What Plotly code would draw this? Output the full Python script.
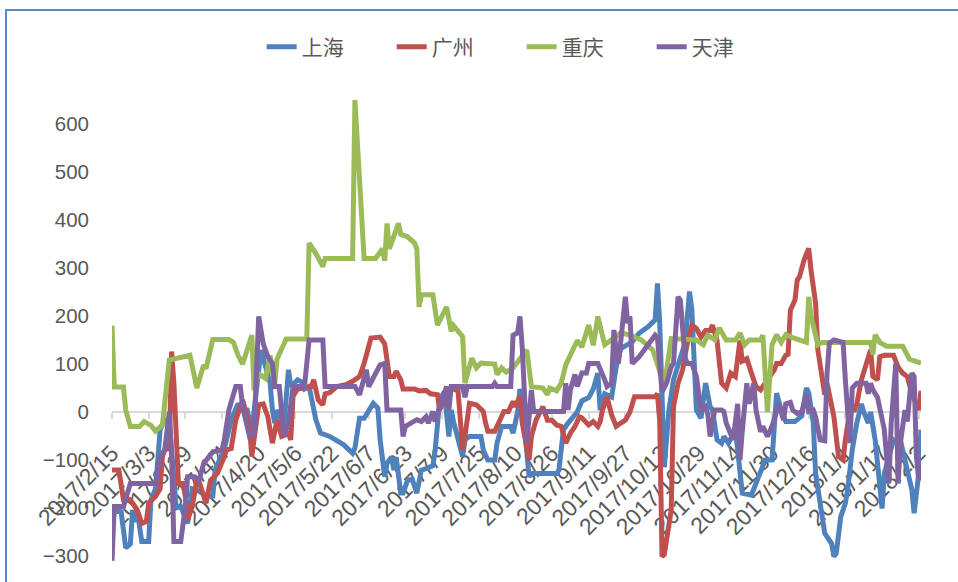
import plotly.graph_objects as go
from datetime import date, timedelta

START = date(2017, 2, 15)

tick_labels = ["2017/2/15", "2017/3/3", "2017/3/19", "2017/4/4", "2017/4/20", "2017/5/6",
               "2017/5/22", "2017/6/7", "2017/6/23", "2017/7/9", "2017/7/25", "2017/8/10",
               "2017/8/26", "2017/9/11", "2017/9/27", "2017/10/13", "2017/10/29", "2017/11/14",
               "2017/11/30", "2017/12/16", "2018/1/1", "2018/1/17", "2018/2/2"]
last_day = 353  # days after 2017/2/15 of the last observation
y_ticks = [-300, -200, -100, 0, 100, 200, 300, 400, 500, 600]

# 上海 (days after 2017/2/15, value)
sh_day = [0,1,4,6,8,9,10,11,13,16,17,19,21,23,25,28,30,33,35,38,41,44,45,49,50,52,55,57,59,61,
          65,67,69,70,71,72,75,77,78,81,83,84,86,89,91,95,98,101,105,106,108,110,114,116,117,119,
          120,122,123,124,126,127,129,131,133,135,137,140,141,143,145,147,148,149,153,154,156,161,
          162,164,167,168,170,174,175,177,178,179,182,183,194,195,197,199,203,205,208,210,212,213,
          215,218,220,222,227,230,234,237,238,239,241,243,245,248,250,252,253,255,257,259,261,262,
          264,266,267,269,272,273,275,279,281,283,285,288,290,292,294,298,301,303,304,306,307,309,
          311,314,315,316,318,320,321,323,325,327,328,330,331,333,336,337,341,343,344,347,349,350,
          352,353]
sh_val = [-245,-204,-208,-283,-275,-204,-229,-205,-270,-270,-183,-160,-37,-17,-20,-200,-197,-232,-160,-165,
          -175,-175,-121,-77,-57,-17,17,4,4,-40,129,90,60,4,-23,4,-30,88,53,67,62,48,53,-17,-44,-51,
          -61,-68,-86,-75,-13,-13,18,8,-58,-135,-107,-94,-121,-94,-169,-169,-142,-140,-169,-121,-118,
          -112,-80,25,42,-51,4,-20,-93,-58,-51,-51,-79,-100,-100,-65,-30,-30,-44,0,48,17,-135,-128,
          -128,-121,-37,-23,0,23,30,48,81,4,38,31,94,132,146,164,178,192,268,185,-115,4,67,115,143,
          251,213,4,-13,60,11,4,-58,-65,-51,-65,-37,-79,-169,-173,-150,-121,-100,-100,39,4,-20,-20,
          -8,50,40,-23,-128,-190,-253,-274,-301,-295,-218,-190,-162,-79,-23,17,0,-23,0,-58,-201,-128,
          -58,-65,-58,-121,-162,-211,-128,-37]

# 广州
gz_day = [0,3,5,8,9,11,13,15,16,19,21,22,23,25,26,27,29,31,32,33,35,37,38,41,43,46,49,50,52,54,
          57,58,60,61,62,64,66,68,70,72,74,77,78,79,81,87,88,90,92,93,95,98,102,105,108,110,113,117,
          119,121,123,124,126,127,132,134,137,139,142,143,146,148,151,153,154,156,159,162,163,164,
          167,169,171,173,175,176,178,179,181,182,183,185,188,190,192,194,196,198,200,202,204,205,
          208,210,212,213,214,216,218,220,222,224,226,228,237,238,239,240,241,244,245,247,249,251,
          253,255,257,259,261,262,264,266,268,270,272,274,275,277,279,281,283,285,286,289,290,292,
          294,295,296,298,299,300,302,304,305,307,308,310,311,312,313,315,317,319,320,322,324,325,
          327,331,332,334,335,337,341,343,345,347,349,352,353]
gz_val = [-121,-121,-183,-183,-190,-204,-232,-228,-190,-176,-160,-93,-79,-75,126,60,-149,-149,-176,-225,
          -197,-142,-145,-190,-142,-128,-93,-79,-76,-17,25,4,-30,-93,-51,15,17,-10,-65,-17,-51,-45,
          -58,33,48,53,67,25,15,38,40,53,57,64,74,101,154,156,142,74,74,85,67,48,48,44,45,38,36,4,
          38,50,44,-79,-51,18,15,1,-23,-40,-40,-17,1,1,22,11,33,-23,-79,-100,-51,-17,11,-17,-17,-27,
          -30,-65,-44,-30,-10,-12,-27,-20,-30,-20,4,31,-6,-30,-23,-17,0,32,32,38,-20,-301,-297,-204,
          11,60,88,143,181,174,156,170,170,181,149,60,50,81,74,149,106,111,81,53,46,60,64,88,101,101,
          118,120,212,233,275,282,317,341,296,227,129,67,36,60,38,-10,-93,-100,-58,4,4,17,67,129,74,
          67,115,118,118,94,81,74,38,4,44]

# 重庆
cq_day = [0,1,5,6,8,12,14,17,19,22,25,29,34,35,37,40,41,44,51,53,55,57,61,62,64,67,69,70,71,72,
          76,85,86,89,92,93,105,106,110,115,118,119,120,121,123,125,126,129,132,133,134,135,140,142,
          146,148,149,153,154,157,159,161,167,168,170,172,175,181,183,188,190,191,194,196,198,203,
          205,208,210,212,215,218,222,226,231,236,241,244,250,255,258,260,263,265,268,272,274,276,
          278,283,284,286,288,290,292,294,297,301,303,304,305,308,310,331,332,333,335,338,345,348,353]
cq_val = [180,52,52,4,-30,-30,-20,-28,-40,-27,108,112,118,96,50,98,90,151,151,145,118,100,160,45,80,70,
          118,85,58,110,152,152,352,330,303,320,320,650,320,320,340,315,393,340,370,393,370,365,352,
          340,219,244,244,181,219,168,180,157,60,112,92,102,100,78,92,83,92,129,53,50,36,50,44,60,98,
          149,135,181,139,199,140,150,165,160,150,129,55,153,150,150,140,160,150,175,150,150,165,140,
          150,150,160,0,140,161,145,161,155,150,145,240,200,140,145,145,120,161,145,137,137,110,102]

# 天津
tj_day = [0,1,5,7,8,19,21,23,25,26,27,30,32,33,36,38,39,40,44,48,49,51,54,56,57,60,62,64,66,68,
          70,71,73,74,75,77,79,84,86,92,93,106,108,109,111,112,115,117,119,120,126,127,128,131,133,
          135,137,138,140,141,143,144,146,147,148,153,154,155,166,167,168,174,175,177,178,179,181,
          183,184,197,198,199,200,202,203,205,207,208,212,215,216,218,219,220,221,224,225,226,227,
          230,233,237,238,240,242,244,245,247,248,250,251,253,255,257,259,260,261,263,266,267,268,
          271,273,274,275,277,278,280,281,283,284,286,288,290,291,293,294,296,297,299,301,303,304,
          306,307,309,311,312,313,315,319,320,322,323,325,329,330,331,332,334,337,339,340,342,343,
          344,346,347,349,350,351,352,353]
tj_val = [-310,-197,-197,-160,-149,-149,-93,-79,0,-93,-270,-270,-197,-135,-135,-142,-121,-107,-83,-79,
          -58,4,53,53,11,-51,-45,199,142,115,101,53,53,0,-51,-23,53,53,150,150,53,53,36,53,88,53,81,
          98,101,4,4,-51,-30,-23,-16,-20,-10,-23,1,-20,10,17,53,4,53,53,31,53,53,60,53,53,160,165,
          199,135,-65,46,1,1,60,4,46,78,53,81,81,101,101,67,53,60,171,128,101,240,185,199,101,115,
          135,160,155,42,60,94,101,240,233,115,101,101,74,4,11,-6,-51,4,4,1,-23,-58,17,-100,-40,60,
          17,60,4,-41,-30,-51,-30,4,17,-17,17,20,4,-3,0,37,1,4,-10,-58,-60,81,143,150,145,67,-65,
          50,60,60,38,60,46,31,-37,-149,-23,101,-149,-65,4,-20,81,74,-93,-142,-100]

series = [
    ("上海", sh_day, sh_val, "#4F81BD"),
    ("广州", gz_day, gz_val, "#C0504D"),
    ("重庆", cq_day, cq_val, "#9BBB59"),
    ("天津", tj_day, tj_val, "#8064A2"),
]

def to_date(d):
    return (START + timedelta(days=d)).isoformat()

def label_to_date(s):
    y, m, d = (int(p) for p in s.split("/"))
    return date(y, m, d).isoformat()

fig = go.Figure()
for name, days, vals, color in series:
    assert len(days) == len(vals), name
    fig.add_trace(go.Scatter(
        x=[to_date(d) for d in days], y=vals, name=name, mode="lines",
        line=dict(color=color, width=5),
    ))

Y_MIN, Y_MAX = -354.2, 650
zero_pos = (0 - Y_MIN) / (Y_MAX - Y_MIN)
FONT = "Liberation Sans, Arial, Noto Sans CJK SC, sans-serif"

fig.update_layout(
    width=958, height=582,
    margin=dict(l=112, r=37, t=100, b=0, autoexpand=False),
    paper_bgcolor="white", plot_bgcolor="white",
    font=dict(family=FONT, size=20, color="#595959"),
    showlegend=True,
    legend=dict(orientation="h", x=0.185, xanchor="left", y=1.11, yanchor="middle",
                font=dict(family="Noto Sans CJK SC, sans-serif", size=21, color="#595959"),
                entrywidth=85, entrywidthmode="pixels", bgcolor="rgba(0,0,0,0)"),
    xaxis=dict(
        type="date",
        range=[to_date(0), to_date(last_day)],
        tickvals=[label_to_date(s) for s in tick_labels],
        ticktext=tick_labels,
        tickangle=-45,
        anchor="free", position=zero_pos,
        showline=True, linecolor="#D9D9D9", linewidth=1.5,
        ticks="outside", ticklen=6, tickcolor="#D9D9D9", tickwidth=1.5,
        showgrid=False, zeroline=False,
        layer="below traces",
        tickfont=dict(size=23, color="#595959"),
        ticklabelstandoff=12,
    ),
    yaxis=dict(
        range=[Y_MIN, Y_MAX],
        tickvals=y_ticks,
        showgrid=False, zeroline=False, showline=False, ticks="",
        tickfont=dict(size=20.5, color="#595959"),
        ticklabelstandoff=22,
    ),
    shapes=[dict(type="rect", xref="paper", yref="paper",
                 x0=-0.131, x1=1.3, y0=-0.3, y1=1.1867,
                 line=dict(color="#5A8AC6", width=2), layer="below")],
)

fig.write_html("out.html", config={"displayModeBar": False},
               post_script="document.body.style.margin='0';")
